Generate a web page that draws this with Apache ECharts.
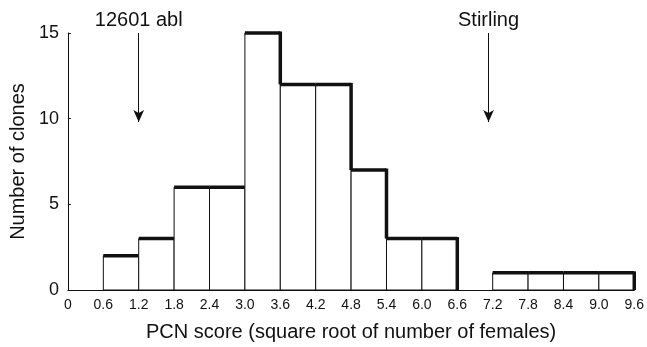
<!DOCTYPE html>
<html>
<head>
<meta charset="utf-8">
<script src="https://cdn.jsdelivr.net/npm/echarts@6/dist/echarts.min.js"></script>
<style>
  html, body { margin: 0; padding: 0; background: #fff; }
  #chart { width: 647px; height: 347px; }
</style>
</head>
<body>
<div id="chart"></div>
<script>
// bin edges (PCN score) and clone counts per bin
var binStarts = [0.6, 1.2, 1.8, 2.4, 3.0, 3.6, 4.2, 4.8, 5.4, 6.0, 6.6, 7.2, 7.8, 8.4, 9.0]
var binWidth = 0.6
var counts = [2, 3, 6, 6, 15, 12, 12, 7, 3, 3, 0, 1, 1, 1, 1]
var yTicks = [0, 5, 10, 15]
// arrows marking the two reference clones
var markers = [
  { name: '12601 abl', x: 1.2, from: 15, to: 9.8 },
  { name: 'Stirling', x: 7.13, from: 15, to: 9.8 }
]

var font = 'Liberation Sans, Arial, Helvetica, sans-serif'

var histData = binStarts.map(function(s, i) {
  var next = i + 1 < counts.length ? counts[i + 1] : 0
  return [s, s + binWidth, counts[i], next]
})

var chart = echarts.init(document.getElementById('chart'))
chart.setOption({
  animation: false,
  grid: { left: 67, right: 12, top: 33, bottom: 54 },
  xAxis: {
    type: 'value',
    min: 0,
    max: 9.6,
    interval: 0.6,
    axisLine: { lineStyle: { color: '#111', width: 1 } },
    axisTick: { show: false },
    splitLine: { show: false },
    axisLabel: {
      color: '#111',
      fontFamily: font,
      fontSize: 14,
      margin: 8,
      formatter: function(v) {
        return v === 0 ? '0' : v.toFixed(1)
      }
    },
    name: 'PCN score (square root of number of females)',
    nameLocation: 'middle',
    nameGap: 32,
    nameTextStyle: { color: '#111', fontFamily: font, fontSize: 20 }
  },
  yAxis: {
    type: 'value',
    min: 0,
    max: 15,
    interval: 5,
    axisLine: { show: true, lineStyle: { color: '#111', width: 1 } },
    axisTick: { show: true, inside: true, length: 3, lineStyle: { color: '#111' } },
    splitLine: { show: false },
    axisLabel: {
      color: '#111',
      fontFamily: font,
      fontSize: 18,
      margin: 9,
      formatter: function(v) {
        return yTicks.indexOf(v) >= 0 ? String(v) : ''
      }
    },
    name: 'Number of clones',
    nameLocation: 'middle',
    nameGap: 39,
    nameTextStyle: { color: '#111', fontFamily: font, fontSize: 20 }
  },
  series: [
    {
      type: 'custom',
      data: histData,
      renderItem: function(params, api) {
        var x0 = api.value(0)
        var x1 = api.value(1)
        var h = api.value(2)
        var nextH = api.value(3)
        if (h <= 0) return
        var p0 = api.coord([x0, 0])
        var p1 = api.coord([x1, h])
        var children = [
          {
            type: 'rect',
            shape: { x: p0[0], y: p1[1], width: p1[0] - p0[0], height: p0[1] - p1[1] },
            style: { fill: '#fff', stroke: '#111', lineWidth: 1 }
          },
          {
            type: 'line',
            shape: { x1: p0[0], y1: p1[1], x2: p1[0], y2: p1[1] },
            style: { stroke: '#111', lineWidth: 3.5 }
          }
        ]
        if (nextH < h) {
          var pn = api.coord([x1, nextH])
          children.push({
            type: 'line',
            shape: { x1: p1[0], y1: p1[1] - 1.5, x2: p1[0], y2: pn[1] },
            style: { stroke: '#111', lineWidth: 3.5 }
          })
        }
        return { type: 'group', children: children }
      },
      markLine: {
        silent: true,
        symbol: ['none', 'arrow'],
        symbolSize: [8, 12],
        lineStyle: { color: '#111', width: 1, type: 'solid' },
        label: {
          show: true,
          position: 'start',
          color: '#111',
          fontFamily: font,
          fontSize: 20,
          distance: 3,
          formatter: '{b}'
        },
        data: markers.map(function(m) {
          return [
            { name: m.name, coord: [m.x, m.from] },
            { coord: [m.x, m.to] }
          ]
        })
      }
    }
  ]
})
</script>
</body>
</html>
